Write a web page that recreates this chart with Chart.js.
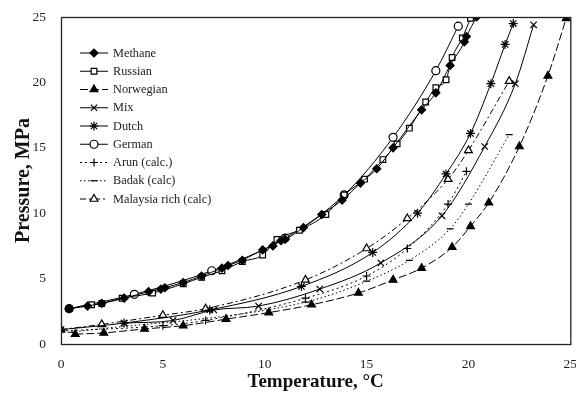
<!DOCTYPE html>
<html>
<head>
<meta charset="utf-8">
<script src="https://cdn.jsdelivr.net/npm/chart.js@4.4.1/dist/chart.umd.min.js"></script>
<style>
html,body{margin:0;padding:0;background:#fff;}
#wrap{width:576px;height:394px;position:relative;}
</style>
</head>
<body>
<div id="wrap"><canvas id="c" width="576" height="394"></canvas></div>
<script>
// ---- data (temperature °C, pressure MPa) ----
const seriesNames = ["Methane","Russian","Norwegian","Mix","Dutch","German","Arun (calc.)","Badak (calc)","Malaysia rich (calc)"];
const xTicks = [0,5,10,15,20,25];
const yTicks = [0,5,10,15,20,25];

const methaneT = [0.4,1.3,2.0,3.1,4.3,4.9,5.1,6.0,6.9,7.9,8.2,8.9,9.9,10.4,10.8,11.0,11.9,12.8,13.8,14.7,15.5,16.3,17.7,18.4,19.1,19.8,19.9,20.4];
const methaneP = [2.7,2.9,3.1,3.5,4.0,4.2,4.3,4.7,5.2,5.8,6.0,6.4,7.2,7.5,7.9,8.0,8.9,9.9,11.0,12.3,13.4,15.0,17.9,19.2,21.3,23.1,23.5,25.0];

const russianT = [0.4,1.5,2.0,3.0,4.5,6.0,6.9,7.9,8.9,9.9,10.6,11.7,13.0,13.9,14.9,15.8,16.5,17.1,17.9,18.4,18.9,19.2,19.7,20.1];
const russianP = [2.7,3.0,3.1,3.5,3.9,4.6,5.1,5.6,6.3,6.8,8.0,8.7,9.9,11.4,12.6,14.1,15.3,16.5,18.5,19.6,20.2,21.9,23.4,24.9];

const norwegianT = [0.7,2.1,4.1,6.0,8.1,10.2,12.3,14.6,16.3,17.7,19.2,20.1,21.0,22.5,23.9,24.8];
const norwegianP = [0.75,0.85,1.15,1.4,1.9,2.4,3.0,3.9,4.9,5.8,7.4,9.0,10.8,15.1,20.5,24.9];

const mixT = [3.1,5.5,7.5,9.7,12.7,15.7,18.7,20.8,22.3,23.2];
const mixP = [1.6,1.8,2.6,2.9,4.2,6.2,9.8,15.1,19.9,24.4];

const dutchT = [0.0,3.1,7.3,11.8,15.3,17.5,18.9,20.1,21.1,21.8,22.2];
const dutchP = [1.1,1.6,2.6,4.4,7.0,10.0,13.0,16.1,19.9,22.9,24.5];

const germanT = [0.4,3.6,7.4,11.0,13.9,16.3,18.4,19.5];
const germanP = [2.7,3.8,5.6,8.1,11.4,15.8,20.9,24.3];

const arunT = [0.0,5.0,7.1,12.0,15.0,17.0,19.0,19.9];
const arunP = [1.0,1.4,1.8,3.5,5.2,7.3,10.7,13.2];

const badakT = [0.5,12.0,15.0,17.1,19.1,20.0,22.0];
const badakP = [0.9,3.2,4.8,6.4,8.8,10.7,16.0];

const malaysiaT = [0.0,2.0,5.0,7.1,12.0,15.0,17.0,19.0,20.0,22.0];
const malaysiaP = [1.1,1.5,2.2,2.7,4.9,7.3,9.6,12.6,14.8,20.1];

function pts(xs, ys){ return xs.map((x,i)=>({x:x,y:ys[i]})); }

const K = '#000';
const styles = [
  {pointStyle:'rectRot', fill:true,  dash:[],      r:4},
  {pointStyle:'rect',    fill:false, dash:[],      r:4},
  {pointStyle:'triangle',fill:true,  dash:[8,3],   r:4.5},
  {pointStyle:'crossRot',fill:false, dash:[],      r:4.5},
  {pointStyle:'star',    fill:false, dash:[],      r:4.5},
  {pointStyle:'circle',  fill:false, dash:[],      r:4},
  {pointStyle:'cross',   fill:false, dash:[2,3],   r:4},
  {pointStyle:'line',    fill:false, dash:[1.5,2.5],r:3.5},
  {pointStyle:'triangle',fill:false, dash:[6,3,2,3],r:4.5}
];
const dataList = [
  pts(methaneT,methaneP), pts(russianT,russianP), pts(norwegianT,norwegianP),
  pts(mixT,mixP), pts(dutchT,dutchP), pts(germanT,germanP),
  pts(arunT,arunP), pts(badakT,badakP), pts(malaysiaT,malaysiaP)
];

const datasets = dataList.map((d,i)=>({
  label: seriesNames[i],
  data: d,
  showLine: true,
  borderColor: K,
  borderWidth: 1,
  borderDash: styles[i].dash,
  cubicInterpolationMode: 'monotone',
  pointStyle: styles[i].pointStyle,
  pointRadius: styles[i].r,
  pointBorderColor: K,
  pointBorderWidth: 1.2,
  pointBackgroundColor: styles[i].fill ? K : '#fff',
  fill: false
}));

const serif = "'Liberation Serif','DejaVu Serif',serif";

const framePlugin = {
  id:'frame',
  afterDatasetsDraw(chart){
    const a = chart.chartArea, ctx = chart.ctx;
    ctx.save();
    ctx.strokeStyle = '#222';
    ctx.lineWidth = 1.3;
    ctx.strokeRect(a.left+0.5, a.top+0.5, a.right-a.left, a.bottom-a.top);
    ctx.restore();
  }
};

const legendPlugin = {
  id:'customLegend',
  afterDraw(chart){
    const ctx = chart.ctx;
    ctx.save();
    chart.data.datasets.forEach((ds,i)=>{
      const y = 53 + i*18.25;
      const x0 = 80, x1 = 108, xm = 94;
      ctx.strokeStyle = K;
      ctx.lineWidth = 1;
      ctx.setLineDash(ds.borderDash || []);
      ctx.beginPath(); ctx.moveTo(x0,y); ctx.lineTo(x1,y); ctx.stroke();
      ctx.setLineDash([]);
      ctx.fillStyle = ds.pointBackgroundColor;
      ctx.strokeStyle = K;
      ctx.lineWidth = 1.2;
      Chart.helpers.drawPoint(ctx, {pointStyle: ds.pointStyle, radius: ds.pointRadius, borderWidth:1.2, rotation:0}, xm, y);
      ctx.fillStyle = '#222';
      ctx.font = "12.3px " + serif;
      ctx.textBaseline = 'middle';
      ctx.textAlign = 'left';
      ctx.fillText(ds.label, 113, y+0.5);
    });
    ctx.restore();
  }
};

new Chart(document.getElementById('c'), {
  type: 'scatter',
  data: { datasets },
  options: {
    responsive: false,
    animation: false,
    layout: { padding: { top: 17, right: 5, left: 0, bottom: 0 } },
    plugins: { legend: { display:false }, tooltip: { enabled:false } },
    scales: {
      x: {
        type:'linear', min:0, max:25,
        afterBuildTicks(s){ s.ticks = xTicks.map(v=>({value:v})); },
        grid: { display:false, drawTicks:false },
        border: { display:false },
        ticks: { color:'#222', padding: 12, font:{ family: serif, size: 13.5 } },
        title: { display:true, text:'Temperature, °C', color:'#111', padding:{top:4,bottom:1}, font:{ family: serif, size: 19, weight:'bold' } },
        afterFit(s){ s.height = 50; s.paddingLeft = 0; s.paddingRight = 0; }
      },
      y: {
        type:'linear', min:0, max:25,
        afterBuildTicks(s){ s.ticks = yTicks.map(v=>({value:v})); },
        grid: { display:false, drawTicks:false },
        border: { display:false },
        ticks: { color:'#222', padding: 15, font:{ family: serif, size: 13.5 } },
        title: { display:true, text:'Pressure, MPa', color:'#111', padding:{top:12,bottom:0}, font:{ family: serif, size: 20, weight:'bold' } },
        afterFit(s){ s.width = 61; s.paddingTop = 0; s.paddingBottom = 0; }
      }
    }
  },
  plugins: [framePlugin, legendPlugin]
});
</script>
</body>
</html>
